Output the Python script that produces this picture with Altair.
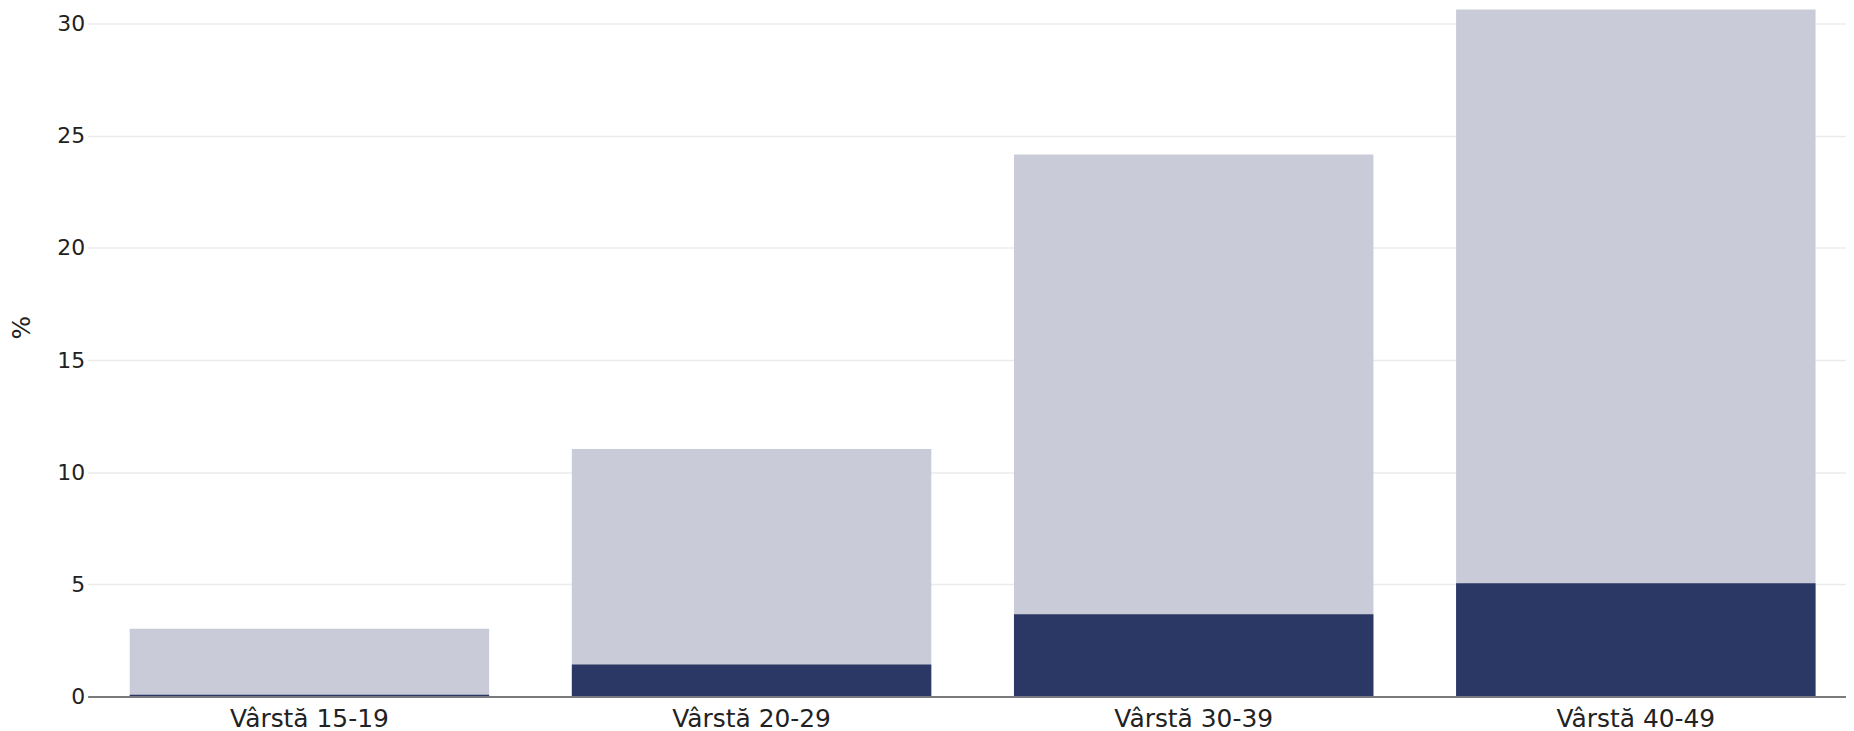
import altair as alt
import pandas as pd

categories = ["Vârstă 15-19", "Vârstă 20-29", "Vârstă 30-39", "Vârstă 40-49"]
total_values = [3.02, 11.04, 24.16, 33.5]
subset_values = [0.08, 1.43, 3.67, 5.05]

df = pd.DataFrame({
    "cat": categories,
    "total": total_values,
    "subset": subset_values,
})

FONT = "DejaVu Sans"

x_enc = alt.X(
    "cat:N",
    sort=categories,
    title=None,
    scale=alt.Scale(paddingInner=0.187, paddingOuter=0.082, align=0.58),
    axis=alt.Axis(
        labelAngle=0,
        labelFontSize=25,
        labelFont=FONT,
        labelColor="#222222",
        labelPadding=10,
        ticks=False,
        domain=True,
        domainColor="#555555",
        domainWidth=1.5,
        grid=False,
    ),
)

y_scale = alt.Scale(domain=[0, 30.62], nice=False, zero=True)

gray = alt.Chart(df).mark_bar(color="#C9CBD8", clip=True).encode(
    x=x_enc,
    y=alt.Y(
        "total:Q",
        scale=y_scale,
        title="%",
        axis=alt.Axis(
            values=[0, 5, 10, 15, 20, 25, 30],
            labelFontSize=22,
            labelFont=FONT,
            labelColor="#222222",
            labelPadding=3,
            ticks=False,
            domain=False,
            grid=True,
            gridColor="#EBEBEB",
            gridWidth=1.5,
            titleFontSize=25,
            titleFont=FONT,
            titleFontWeight="normal",
            titleColor="#222222",
            titlePadding=22,
            titleY=319,
        ),
    ),
)

navy = alt.Chart(df).mark_bar(color="#2B3764", clip=True).encode(
    x=x_enc,
    y=alt.Y("subset:Q", scale=y_scale),
)

chart = (
    alt.layer(gray, navy)
    .properties(
        width=1766,
        height=690,
        autosize=alt.AutoSizeParams(type="none"),
        padding={"left": 80, "top": 0, "right": 0, "bottom": 40},
    )
    .configure_view(stroke=None)
)

chart.save("out.html", embed_options={"renderer": "svg", "actions": False})
